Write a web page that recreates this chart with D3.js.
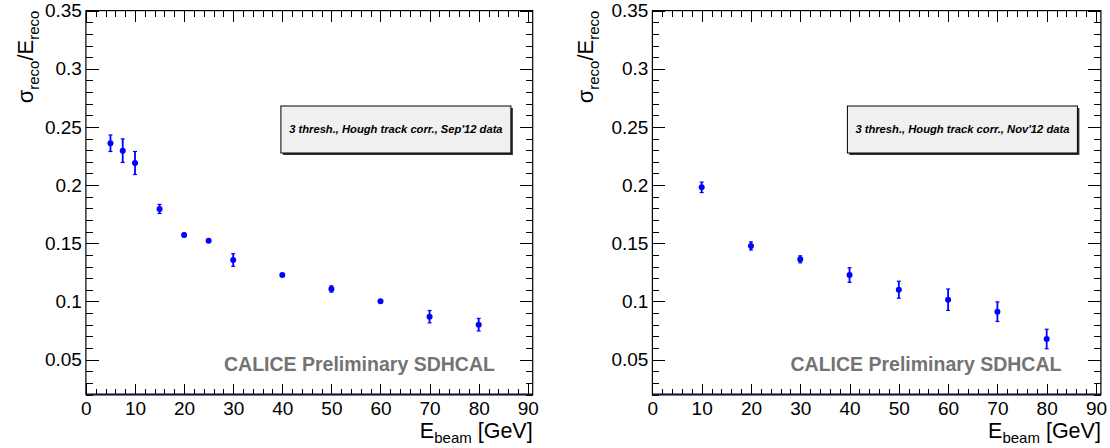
<!DOCTYPE html>
<html>
<head>
<meta charset="utf-8">
<script src="https://cdn.jsdelivr.net/npm/d3@7"></script>
<style>
  body { margin: 0; background: #fff; }
  svg { display: block; font-family: "Liberation Sans", Arial, Helvetica, sans-serif; }
</style>
</head>
<body>
<div class="canvas"></div>
<script>
// beam energies (GeV) and resolution values
const energySep = [5, 7.5, 10, 15, 20, 25, 30, 40, 50, 60, 70, 80];
const resoSep = [0.236, 0.2296, 0.219, 0.1795, 0.1571, 0.1522, 0.1356, 0.1227, 0.1107, 0.1001, 0.0869, 0.080];
const errSep = [0.0071, 0.0101, 0.0099, 0.0039, 0.0015, 0.0012, 0.0054, 0.0010, 0.0027, 0.0010, 0.0053, 0.0054];

const energyNov = [10, 20, 30, 40, 50, 60, 70, 80];
const resoNov = [0.1981, 0.1477, 0.1362, 0.1227, 0.1101, 0.1015, 0.0912, 0.0677];
const errNov = [0.0045, 0.0035, 0.003, 0.0063, 0.0073, 0.0092, 0.0084, 0.0084];

const xMajor = [0, 10, 20, 30, 40, 50, 60, 70, 80, 90];
const yMajor = [0.05, 0.1, 0.15, 0.2, 0.25, 0.3, 0.35];

const legendSep = "3 thresh., Hough track corr., Sep'12 data";
const legendNov = "3 thresh., Hough track corr., Nov'12 data";
const stamp = "CALICE Preliminary SDHCAL";

const W = 1110, H = 448;
const frameTop = 10.6, frameBottom = 394.5;

const svg = d3.select('.canvas')
  .append('svg')
  .attr('width', W)
  .attr('height', H);

svg.append('rect').attr('width', W).attr('height', H).attr('fill', '#fff');

const xMinor = d3.range(0, 91, 2);
const yMinor = d3.range(2, 36).map(d => d / 100);

const fmt = d => String(+d.toFixed(2));

const drawPanel = (cfg) => {
  const x = d3.scaleLinear().domain([0, 91]).range([cfg.x0, cfg.x1]);
  const y = d3.scaleLinear().domain([0.02, 0.35]).range([frameBottom, frameTop]);
  const g = svg.append('g');

  // axes, ticks pointing inward
  const axes = [
    [d3.axisLeft(y).tickValues(yMajor).tickSize(-13).tickPadding(4).tickFormat(fmt), `translate(${cfg.x0},0)`, true],
    [d3.axisLeft(y).tickValues(yMinor).tickSize(-7).tickFormat(''), `translate(${cfg.x0},0)`, false],
    [d3.axisRight(y).tickValues(yMajor).tickSize(-13).tickFormat(''), `translate(${cfg.x1},0)`, false],
    [d3.axisRight(y).tickValues(yMinor).tickSize(-7).tickFormat(''), `translate(${cfg.x1},0)`, false],
    [d3.axisBottom(x).tickValues(xMajor).tickSize(-11).tickPadding(7).tickFormat(d3.format('d')), `translate(0,${frameBottom})`, true],
    [d3.axisBottom(x).tickValues(xMinor).tickSize(-6).tickFormat(''), `translate(0,${frameBottom})`, false],
    [d3.axisTop(x).tickValues(xMajor).tickSize(-11).tickFormat(''), `translate(0,${frameTop})`, false],
    [d3.axisTop(x).tickValues(xMinor).tickSize(-6).tickFormat(''), `translate(0,${frameTop})`, false],
  ];
  axes.forEach(([ax, tr, labels]) => {
    const a = g.append('g').attr('transform', tr).call(ax);
    a.select('.domain').remove();
    a.selectAll('line').attr('stroke', '#000').attr('shape-rendering', 'crispEdges');
    a.selectAll('text')
      .attr('font-size', labels ? 19 : 0)
      .attr('font-family', '"Liberation Sans", Arial, sans-serif')
      .attr('fill', '#000');
  });

  // frame
  g.append('rect')
    .attr('x', cfg.x0).attr('y', frameTop)
    .attr('width', cfg.x1 - cfg.x0).attr('height', frameBottom - frameTop)
    .attr('fill', 'none').attr('stroke', '#000').attr('stroke-width', 1.2);
  g.append('line')
    .attr('x1', cfg.x0).attr('x2', cfg.x1)
    .attr('y1', frameBottom).attr('y2', frameBottom)
    .attr('stroke', '#15153a').attr('stroke-width', 2);

  // legend pave with shadow
  const bx = cfg.x0 + 195, by = 106, bw = 230, bh = 47;
  g.append('rect').attr('x', bx + 2).attr('y', by + 2).attr('width', bw).attr('height', bh).attr('fill', '#333');
  g.append('rect').attr('x', bx).attr('y', by).attr('width', bw).attr('height', bh)
    .attr('fill', '#f0f0f0').attr('stroke', '#000').attr('stroke-width', 1);
  g.append('text')
    .attr('x', bx + bw / 2).attr('y', by + bh / 2 + 3.8)
    .attr('text-anchor', 'middle')
    .attr('font-size', 11.2).attr('font-weight', 'bold').attr('font-style', 'italic')
    .text(cfg.legend);

  // preliminary stamp
  g.append('text')
    .attr('x', cfg.x0 + 409).attr('y', 371)
    .attr('text-anchor', 'end')
    .attr('font-size', 19.5).attr('font-weight', 'bold')
    .attr('fill', '#737373')
    .text(stamp);

  // y title
  const yt = g.append('text')
    .attr('transform', `translate(${cfg.yTitleX},${frameTop}) rotate(-90)`)
    .attr('text-anchor', 'end')
    .attr('font-size', 22);
  yt.append('tspan').text('σ');
  yt.append('tspan').attr('font-size', 15).attr('dy', 5.5).text('reco');
  yt.append('tspan').attr('dy', -5.5).text('/E');
  yt.append('tspan').attr('font-size', 15).attr('dy', 5.5).text('reco');

  // x title
  const xt = g.append('text')
    .attr('x', cfg.x1).attr('y', 437.7)
    .attr('text-anchor', 'end')
    .attr('font-size', 21.5);
  xt.append('tspan').text('E');
  xt.append('tspan').attr('font-size', 15).attr('dy', 5.6).text('beam');
  xt.append('tspan').attr('dy', -5.6).text(' [GeV]');

  // points with error bars
  const pts = cfg.energy.map((e, i) => ({ e, v: cfg.reso[i], err: cfg.err[i] }));
  const blue = '#0000ff';
  const pg = g.append('g');
  pg.selectAll('line.bar').data(pts).enter().append('line')
    .attr('class', 'bar')
    .attr('x1', d => x(d.e)).attr('x2', d => x(d.e))
    .attr('y1', d => y(d.v - d.err)).attr('y2', d => y(d.v + d.err))
    .attr('stroke', blue).attr('stroke-width', 1.8);
  ['lo', 'hi'].forEach(k => {
    pg.selectAll(`line.cap${k}`).data(pts).enter().append('line')
      .attr('class', `cap${k}`)
      .attr('x1', d => x(d.e) - 2).attr('x2', d => x(d.e) + 2)
      .attr('y1', d => y(k === 'lo' ? d.v - d.err : d.v + d.err))
      .attr('y2', d => y(k === 'lo' ? d.v - d.err : d.v + d.err))
      .attr('stroke', blue).attr('stroke-width', 1.2);
  });
  pg.selectAll('circle').data(pts).enter().append('circle')
    .attr('cx', d => x(d.e)).attr('cy', d => y(d.v))
    .attr('r', 3).attr('fill', blue);
};

drawPanel({ x0: 85.9, x1: 532.7, yTitleX: 33, energy: energySep, reso: resoSep, err: errSep, legend: legendSep });
drawPanel({ x0: 652.4, x1: 1100.9, yTitleX: 593, energy: energyNov, reso: resoNov, err: errNov, legend: legendNov });
</script>
</body>
</html>
